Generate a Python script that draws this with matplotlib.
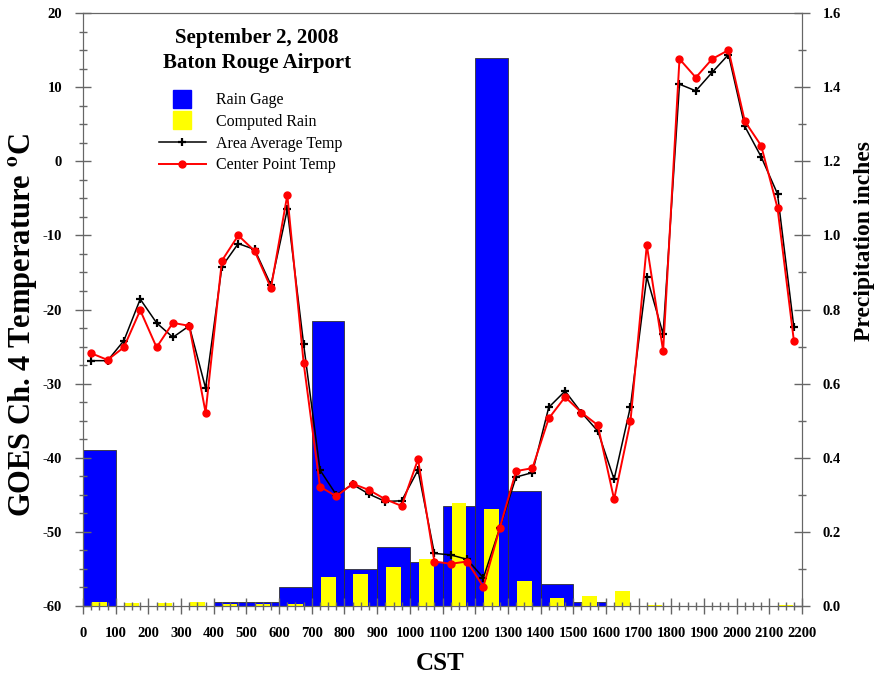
import matplotlib
matplotlib.use("Agg")
import matplotlib.pyplot as plt
from matplotlib.lines import Line2D
from matplotlib.ticker import MultipleLocator, FormatStrFormatter

plt.rcParams["font.family"] = ["Liberation Serif", "DejaVu Serif"]
plt.rcParams["mathtext.fontset"] = "stix"
plt.rcParams["axes.unicode_minus"] = False

# hourly rain totals (inches), one bar per hour starting at 0 CST
hours = list(range(0, 2200, 100))
rain_gage = [0.42, 0, 0, 0, 0.01, 0.01, 0.05, 0.77, 0.10, 0.16, 0.12,
             0.27, 1.48, 0.31, 0.06, 0.01, 0, 0, 0, 0, 0, 0]
computed_rain = [0.012, 0.008, 0.008, 0.012, 0.005, 0.005, 0.006, 0.077, 0.087,
                 0.106, 0.127, 0.277, 0.262, 0.068, 0.021, 0.027, 0.040, 0.004,
                 0, 0, 0, 0.004]

# half-hourly GOES channel 4 brightness temps (deg C)
times = list(range(25, 2200, 50))
area_avg = [-26.9, -26.9, -24.2, -18.6, -21.8, -23.75, -22.2, -30.6, -14.2, -11.1,
            -11.9, -16.7, -6.5, -24.7, -41.65, -45.0, -43.6, -44.9, -45.9, -45.8,
            -41.65, -52.9, -53.1, -53.7, -56.2, -49.5, -42.6, -42.0, -33.2, -31.0,
            -33.9, -36.4, -42.9, -33.1, -15.6, -23.3, 10.4, 9.5, 12.0, 14.4,
            4.7, 0.6, -4.4, -22.4]
center_pt = [-25.9, -26.8, -25.1, -20.1, -25.1, -21.8, -22.2, -33.9, -13.4, -10.0,
             -12.1, -17.1, -4.55, -27.2, -43.9, -45.2, -43.5, -44.35, -45.6, -46.5,
             -40.2, -54.0, -54.3, -54.0, -57.4, -49.5, -41.8, -41.4, -34.7, -31.8,
             -33.9, -35.6, -45.6, -35.1, -11.3, -25.6, 13.8, 11.3, 13.8, 15.0,
             5.4, 2.1, -6.3, -24.2]

fig = plt.figure(figsize=(8.75, 6.75), dpi=100)
ax = fig.add_axes([0.0949, 0.1022, 0.8217, 0.8785])
ax2 = ax.twinx()
ax.set_zorder(ax2.get_zorder() + 1)
ax.patch.set_visible(False)

ax2.bar(hours, rain_gage, width=100, align="edge", color="#0000ff",
        edgecolor="#333333", linewidth=0.6, zorder=2)
ax2.bar([h + 50 for h in hours], computed_rain, width=45, color="#ffff00",
        linewidth=0, zorder=3)

ax.plot(times, area_avg, color="black", lw=1.1, marker="+", ms=5.5, mew=1.6)
ax.plot(times, center_pt, color="red", lw=1.4, marker="o", ms=5)

ax.set_xlim(0, 2200)
ax.set_ylim(-60, 20)
ax2.set_ylim(0, 1.6)

ax.xaxis.set_major_locator(MultipleLocator(100))
ax.xaxis.set_minor_locator(MultipleLocator(25))
ax.yaxis.set_major_locator(MultipleLocator(10))
ax.yaxis.set_minor_locator(MultipleLocator(2.5))
ax2.yaxis.set_major_locator(MultipleLocator(0.2))
ax2.yaxis.set_minor_locator(MultipleLocator(0.1))
ax2.yaxis.set_major_formatter(FormatStrFormatter("%.1f"))

for a in (ax, ax2):
    a.tick_params(which="major", direction="inout", length=12, width=1,
                  color="#666666", pad=9, labelsize=10.5)
    a.tick_params(which="minor", direction="inout", length=6, width=1,
                  color="#666666")
    for s in a.spines.values():
        s.set_color("#666666")
    for lbl in a.get_xticklabels() + a.get_yticklabels():
        lbl.set_fontweight("bold")

ax.set_xlabel("CST", fontsize=18, fontweight="bold")
ax.xaxis.set_label_coords(0.4965, -0.077)
ax.set_ylabel(r"GOES Ch. 4 Temperature $^{\mathbf{o}}$C", fontsize=22,
              fontweight="bold")
ax.yaxis.set_label_coords(-0.061, 0.474)
ax2.set_ylabel("Precipitation inches", fontsize=17, fontweight="bold",
               rotation=90)
ax2.yaxis.set_label_coords(1.072, 0.615)

fig.text(0.2937, 0.958, "September 2, 2008\nBaton Rouge Airport",
         ha="center", va="top", fontsize=15, fontweight="bold", linespacing=1.3)

handles = [
    Line2D([], [], ls="none", marker="s", ms=13, color="#0000ff"),
    Line2D([], [], ls="none", marker="s", ms=13, color="#ffff00"),
    Line2D([], [], color="black", lw=1.1, marker="+", ms=5.5, mew=1.6),
    Line2D([], [], color="red", lw=1.4, marker="o", ms=5),
]
labels = ["Rain Gage", "Computed Rain", "Area Average Temp", "Center Point Temp"]
ax.legend(handles, labels, loc="upper left", bbox_to_anchor=(0.105, 0.866),
          frameon=False, fontsize=11.5, handlelength=3.0, handletextpad=0.6,
          borderpad=0, borderaxespad=0, labelspacing=0.35)

fig.savefig("out.png", dpi=100)
